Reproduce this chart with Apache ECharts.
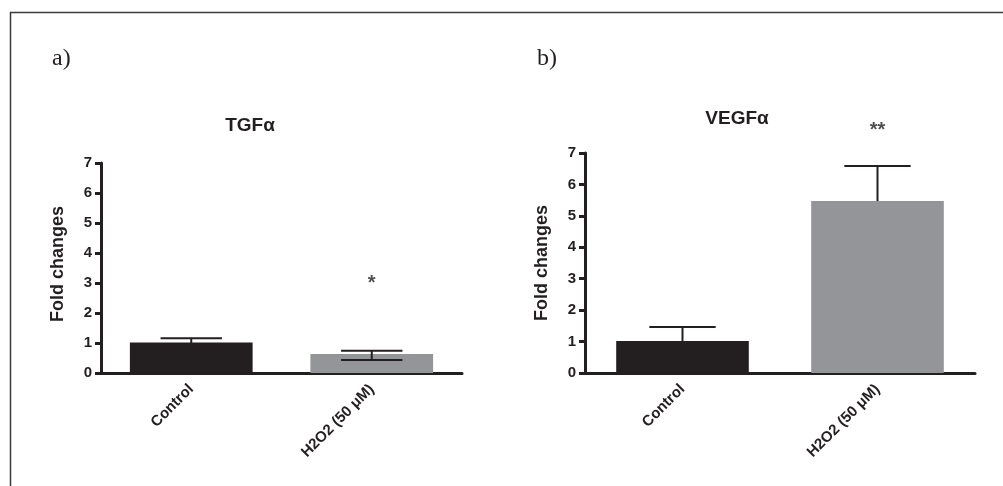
<!DOCTYPE html>
<html>
<head>
<meta charset="utf-8">
<script src="https://cdn.jsdelivr.net/npm/echarts@6/dist/echarts.min.js"></script>
<style>
  html, body { margin: 0; padding: 0; background: #fff; }
  #chart { width: 1003px; height: 486px; }
</style>
</head>
<body>
<div id="chart"></div>
<script>
// two GraphPad-style bar panels: mean + error bar, significance stars on top

const categories = ['Control', 'H2O2 (50 μM)'];
const yTicks = [0, 1, 2, 3, 4, 5, 6, 7];

// a) TGFα
const tgfMean = [1.02, 0.63];
const tgfHigh = [1.16, 0.74];
const tgfLow  = [0.88, 0.43];
const tgfStars = [['H2O2 (50 μM)', 3.1, '*']];

// b) VEGFα
const vegfMean = [1.02, 5.47];
const vegfHigh = [1.46, 6.59];
const vegfLow  = [1.02, 5.47];   // only the upper whisker is drawn
const vegfStars = [['H2O2 (50 μM)', 7.8, '**']];

const INK = '#231f20';
const BAR_COLORS = ['#231f20', '#939598'];
const FONT = '"Liberation Sans", Arial, sans-serif';

function errRender(params, api) {
  const i = api.value(0);
  const mean = api.value(1);
  const hi = api.coord([i, api.value(2)]);
  const lo = api.coord([i, api.value(3)]);
  const half = api.size([1, 0])[0] * 0.17;
  const st = { stroke: INK, lineWidth: 2 };
  const kids = [
    { type: 'line', shape: { x1: hi[0], y1: hi[1], x2: lo[0], y2: lo[1] }, style: st },
    { type: 'line', shape: { x1: hi[0] - half, y1: hi[1], x2: hi[0] + half, y2: hi[1] }, style: st },
  ];
  if (api.value(3) < mean) {
    kids.push({ type: 'line', shape: { x1: lo[0] - half, y1: lo[1], x2: lo[0] + half, y2: lo[1] }, style: st });
  }
  return { type: 'group', children: kids };
}

function xAxisFor(idx) {
  return {
    gridIndex: idx,
    type: 'category',
    data: categories,
    axisLine: { lineStyle: { color: INK, width: 3 } },
    axisTick: { alignWithLabel: true, length: 6, lineStyle: { color: INK, width: 3 } },
    axisLabel: { rotate: 45, color: INK, fontFamily: FONT, fontWeight: 'bold', fontSize: 15, margin: 14 },
  };
}

function yAxisFor(idx, namePad) {
  return {
    gridIndex: idx,
    type: 'value',
    min: yTicks[0], max: yTicks[yTicks.length - 1], interval: 1,
    name: 'Fold changes',
    nameLocation: 'middle',
    nameGap: 34,
    nameTextStyle: { color: INK, fontFamily: FONT, fontWeight: 'bold', fontSize: 18, padding: [0, 0, 0, namePad] },
    axisLine: { show: true, lineStyle: { color: INK, width: 3 } },
    axisTick: { show: true, length: 6, lineStyle: { color: INK, width: 3 } },
    axisLabel: { color: INK, fontFamily: FONT, fontWeight: 'bold', fontSize: 15, margin: 9 },
    splitLine: { show: false },
  };
}

function panelSeries(idx, mean, high, low, stars) {
  return [
    {
      type: 'bar', xAxisIndex: idx, yAxisIndex: idx,
      barWidth: '68%',
      data: mean.map((v, i) => ({ value: v, itemStyle: { color: BAR_COLORS[i] } })),
      z: 2,
    },
    {
      type: 'custom', xAxisIndex: idx, yAxisIndex: idx,
      renderItem: errRender,
      encode: { x: 0, y: [1, 2, 3] },
      data: mean.map((v, i) => [i, v, high[i], low[i]]),
      z: 3,
    },
    {
      type: 'scatter', xAxisIndex: idx, yAxisIndex: idx,
      clip: false,
      symbolSize: 1,
      itemStyle: { color: 'rgba(0,0,0,0)' },
      label: {
        show: true, position: 'inside', offset: [0, 3],
        formatter: p => p.data[2],
        color: INK, fontFamily: FONT, fontWeight: 'bold', fontSize: 20,
      },
      data: stars,
      z: 4,
    },
  ];
}

const chart = echarts.init(document.getElementById('chart'), null, { renderer: 'canvas' });

chart.setOption({
  animation: false,
  title: [
    { text: 'TGFα', left: 245, top: 111, textAlign: 'center',
      textStyle: { color: INK, fontFamily: FONT, fontWeight: 'bold', fontSize: 19 } },
    { text: 'VEGFα', left: 732, top: 104, textAlign: 'center',
      textStyle: { color: INK, fontFamily: FONT, fontWeight: 'bold', fontSize: 19 } },
    { text: 'a)', left: 47, top: 42,
      textStyle: { color: INK, fontFamily: '"Liberation Serif", serif', fontWeight: 'normal', fontSize: 24 } },
    { text: 'b)', left: 532, top: 42,
      textStyle: { color: INK, fontFamily: '"Liberation Serif", serif', fontWeight: 'normal', fontSize: 24 } },
  ],
  graphic: [
    { type: 'polyline', shape: { points: [[10.5, 486], [10.5, 12.5], [1003, 12.5]] },
      style: { stroke: '#3a3a3a', lineWidth: 1.5, fill: null } },
  ],
  grid: [
    { left: 101, top: 163, width: 361, height: 210 },
    { left: 585, top: 153, width: 390, height: 220 },
  ],
  xAxis: [xAxisFor(0), xAxisFor(1)],
  yAxis: [yAxisFor(0, 8), yAxisFor(1, 0)],
  series: [
    ...panelSeries(0, tgfMean, tgfHigh, tgfLow, tgfStars),
    ...panelSeries(1, vegfMean, vegfHigh, vegfLow, vegfStars),
  ],
});

window.addEventListener('resize', () => chart.resize());
</script>
</body>
</html>
